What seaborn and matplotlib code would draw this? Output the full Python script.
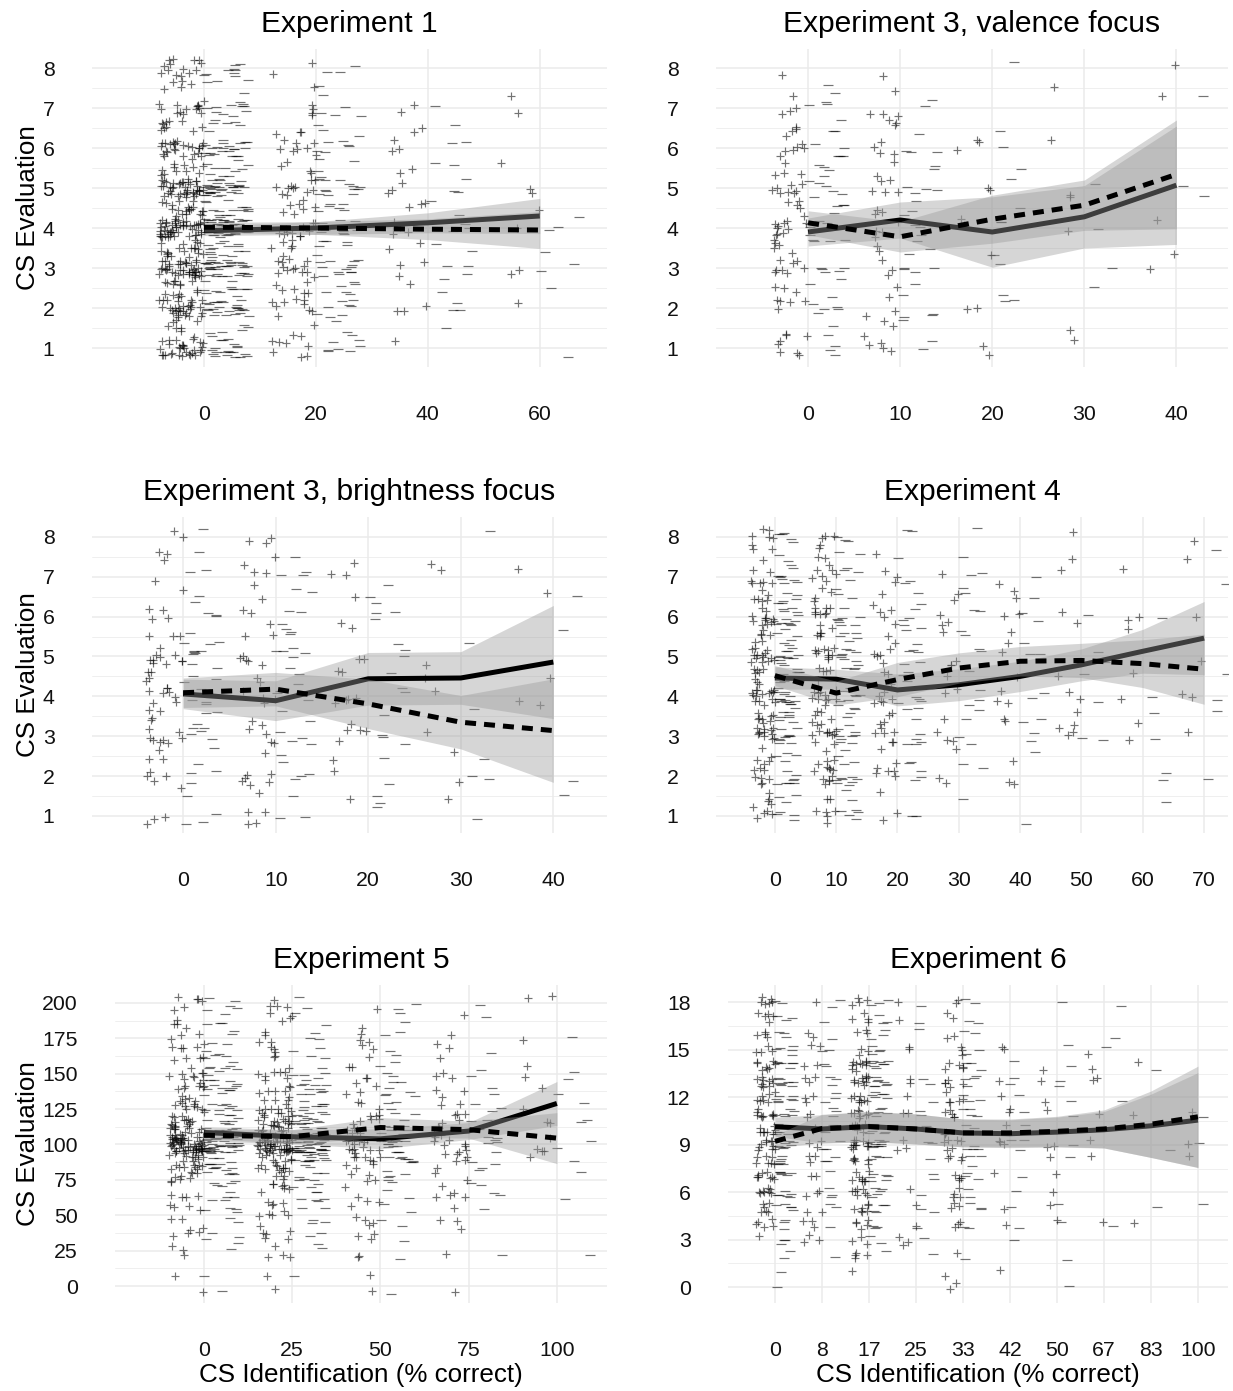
import numpy as np
import pandas as pd
import matplotlib.pyplot as plt
import seaborn as sns

np.random.seed(7)  # jitter only

sns.set_theme(style='white')
plt.rcParams['font.family'] = ['Liberation Sans', 'DejaVu Sans']

# ---------------- data ----------------
titles = ['Experiment 1', 'Experiment 3, valence focus',
          'Experiment 3, brightness focus', 'Experiment 4',
          'Experiment 5', 'Experiment 6']

# rating levels used for the counts of the jittered points
levels_8 = [1, 1.5, 2, 2.5, 3, 3.5, 4, 4.5, 5, 5.5, 6, 6.5, 7, 7.5, 8]
levels_200 = [0, 12.5, 25, 37.5, 50, 62.5, 75, 87.5, 100, 112.5, 125,
              137.5, 150, 162.5, 175, 187.5, 200]
levels_18 = [0, 1, 2, 3, 4, 5, 6, 7, 8, 9, 10, 11, 12, 13, 14, 15, 16, 17, 18]

# Experiment 1
e1_x = [0, 20, 40, 60]
e1_plus = [[30, 8, 30, 15, 40, 20, 50, 20, 40, 12, 25, 10, 14, 5, 14],
           [7, 3, 9, 6, 13, 6, 11, 7, 11, 4, 8, 3, 4, 1, 2],
           [1, 0, 3, 1, 3, 2, 5, 3, 3, 2, 3, 2, 2, 0, 0],
           [0, 0, 1, 0, 2, 0, 1, 1, 2, 1, 0, 0, 1, 1, 0]]
e1_minus = [[20, 6, 25, 12, 35, 15, 40, 15, 35, 10, 22, 6, 11, 4, 9],
            [7, 3, 8, 6, 13, 6, 13, 6, 13, 4, 6, 3, 4, 2, 3],
            [0, 1, 3, 2, 3, 2, 3, 2, 3, 2, 2, 1, 1, 0, 0],
            [1, 0, 0, 1, 2, 1, 2, 1, 0, 0, 0, 0, 0, 0, 0]]
e1_solid = [3.93, 4.0, 4.13, 4.3]
e1_solid_ci = [0.12, 0.16, 0.25, 0.44]
e1_dashed = [4.02, 4.0, 3.97, 3.95]
e1_dashed_ci = [0.12, 0.16, 0.26, 0.46]

# Experiment 3, valence focus
e3v_x = [0, 10, 20, 30, 40]
e3v_plus = [[5, 3, 5, 3, 8, 5, 10, 5, 8, 4, 6, 4, 3, 1, 1],
            [4, 3, 2, 2, 3, 2, 4, 3, 5, 2, 4, 3, 3, 1, 1],
            [2, 0, 2, 0, 0, 1, 2, 0, 2, 0, 3, 0, 0, 0, 0],
            [1, 1, 0, 0, 0, 0, 1, 0, 2, 0, 1, 0, 0, 1, 0],
            [0, 0, 0, 0, 1, 1, 1, 0, 0, 0, 0, 0, 0, 1, 1]]
e3v_minus = [[3, 2, 5, 3, 5, 4, 6, 4, 6, 4, 5, 3, 3, 2, 0],
             [2, 1, 3, 2, 4, 3, 4, 3, 4, 2, 3, 1, 2, 0, 0],
             [0, 0, 2, 1, 1, 1, 2, 1, 1, 1, 1, 1, 0, 0, 1],
             [0, 0, 0, 1, 1, 0, 1, 0, 1, 0, 0, 0, 0, 0, 0],
             [0, 0, 0, 0, 0, 0, 0, 0, 2, 0, 0, 0, 0, 1, 0]]
e3v_solid = [3.9, 4.2, 3.9, 4.28, 5.07]
e3v_solid_ci = [0.35, 0.45, 0.88, 0.78, 1.48]
e3v_dashed = [4.13, 3.78, 4.22, 4.57, 5.34]
e3v_dashed_ci = [0.3, 0.38, 0.6, 0.63, 1.36]

# Experiment 3, brightness focus
e3b_x = [0, 10, 20, 30, 40]
e3b_plus = [[3, 1, 4, 3, 8, 4, 8, 4, 10, 3, 4, 1, 1, 3, 2],
            [4, 1, 6, 1, 4, 2, 4, 2, 5, 2, 3, 1, 3, 2, 3],
            [0, 1, 1, 1, 4, 1, 4, 2, 2, 1, 1, 1, 2, 1, 0],
            [0, 1, 1, 1, 1, 0, 1, 1, 1, 0, 0, 0, 1, 1, 0],
            [0, 0, 0, 0, 0, 0, 2, 1, 0, 0, 0, 1, 1, 0, 0]]
e3b_minus = [[3, 1, 3, 2, 5, 3, 7, 4, 6, 4, 3, 2, 2, 1, 1],
             [2, 1, 3, 2, 4, 2, 4, 3, 5, 3, 3, 2, 3, 1, 0],
             [1, 2, 1, 1, 3, 1, 2, 1, 2, 1, 3, 2, 1, 0, 0],
             [1, 0, 2, 1, 0, 1, 0, 0, 0, 1, 0, 0, 0, 0, 1],
             [0, 1, 1, 0, 0, 0, 0, 0, 0, 1, 0, 1, 0, 0, 0]]
e3b_solid = [4.06, 3.89, 4.44, 4.46, 4.86]
e3b_solid_ci = [0.37, 0.5, 0.66, 0.66, 1.42]
e3b_dashed = [4.09, 4.18, 3.81, 3.35, 3.14]
e3b_dashed_ci = [0.37, 0.42, 0.62, 0.67, 1.3]

# Experiment 4
e4_x = [0, 10, 20, 30, 40, 50, 60, 70]
e4_plus = [[5, 4, 8, 5, 12, 8, 15, 8, 14, 6, 12, 6, 7, 3, 6],
           [5, 2, 10, 4, 10, 7, 12, 5, 10, 5, 9, 4, 6, 4, 4],
           [2, 1, 5, 2, 6, 4, 6, 3, 5, 2, 4, 2, 3, 1, 0],
           [0, 0, 2, 1, 3, 1, 2, 1, 3, 1, 3, 2, 1, 0, 0],
           [0, 0, 2, 1, 0, 2, 3, 1, 1, 2, 2, 2, 1, 0, 0],
           [0, 0, 0, 0, 3, 2, 2, 1, 0, 0, 2, 0, 1, 1, 1],
           [0, 0, 0, 0, 1, 1, 1, 1, 0, 1, 2, 0, 1, 0, 0],
           [0, 0, 0, 0, 1, 0, 2, 0, 1, 0, 1, 0, 0, 1, 1]]
e4_minus = [[4, 3, 8, 4, 10, 8, 14, 7, 12, 6, 12, 6, 8, 3, 5],
            [5, 2, 8, 4, 8, 5, 9, 4, 9, 5, 8, 3, 4, 2, 3],
            [2, 0, 3, 2, 5, 3, 5, 3, 5, 3, 4, 2, 2, 1, 2],
            [0, 1, 1, 1, 2, 2, 3, 2, 2, 2, 2, 2, 2, 1, 1],
            [1, 0, 0, 1, 2, 2, 2, 0, 2, 1, 2, 1, 1, 0, 0],
            [0, 0, 0, 0, 2, 0, 1, 1, 2, 0, 1, 0, 0, 0, 0],
            [0, 1, 2, 0, 1, 1, 1, 0, 0, 0, 1, 0, 0, 0, 0],
            [0, 0, 1, 0, 0, 1, 1, 1, 0, 0, 0, 0, 1, 1, 0]]
e4_solid = [4.46, 4.43, 4.16, 4.29, 4.5, 4.79, 5.13, 5.46]
e4_solid_ci = [0.28, 0.25, 0.4, 0.4, 0.38, 0.4, 0.55, 0.92]
e4_dashed = [4.52, 4.08, 4.42, 4.71, 4.88, 4.9, 4.82, 4.68]
e4_dashed_ci = [0.25, 0.3, 0.43, 0.38, 0.37, 0.43, 0.6, 0.88]

# Experiment 5
e5_x = [0, 25, 50, 75, 100]
e5_plus = [[1, 1, 3, 5, 4, 6, 9, 18, 55, 24, 14, 10, 9, 6, 6, 4, 6],
           [1, 1, 4, 6, 5, 6, 9, 18, 50, 24, 14, 10, 8, 4, 5, 4, 4],
           [1, 1, 2, 4, 3, 4, 5, 9, 14, 9, 6, 4, 4, 2, 4, 1, 1],
           [1, 0, 1, 1, 3, 4, 3, 6, 8, 6, 5, 3, 3, 2, 2, 1, 0],
           [0, 0, 0, 0, 0, 0, 0, 1, 4, 2, 1, 1, 2, 0, 1, 0, 2]]
e5_minus = [[1, 1, 2, 3, 6, 5, 9, 12, 40, 18, 12, 10, 10, 6, 4, 4, 5],
            [0, 1, 2, 2, 5, 6, 9, 14, 45, 18, 13, 10, 6, 4, 3, 2, 2],
            [1, 0, 1, 2, 2, 3, 6, 8, 14, 8, 5, 5, 5, 3, 2, 2, 2],
            [0, 0, 1, 0, 1, 2, 2, 4, 6, 5, 3, 2, 2, 1, 0, 1, 1],
            [0, 0, 1, 0, 0, 1, 1, 1, 2, 2, 1, 1, 2, 0, 1, 0, 0]]
e5_solid = [108.5, 105.5, 104, 109.5, 129]
e5_solid_ci = [4, 5, 7, 6, 15.5]
e5_dashed = [106.5, 105.5, 112, 110.5, 104.5]
e5_dashed_ci = [4, 5, 7, 6, 18]

# Experiment 6 (categorical identification levels)
e6_labels = ['0', '8', '17', '25', '33', '42', '50', '67', '83', '100']
e6_x = [0, 1, 2, 3, 4, 5, 6, 7, 8, 9]
e6_plus = [[0, 0, 0, 1, 5, 6, 8, 8, 7, 10, 8, 9, 7, 10, 8, 4, 4, 5, 6],
           [0, 0, 0, 3, 3, 2, 3, 2, 3, 3, 2, 2, 3, 3, 2, 2, 2, 0, 1],
           [0, 1, 4, 3, 5, 7, 7, 8, 6, 12, 6, 8, 8, 10, 10, 3, 3, 4, 4],
           [0, 0, 0, 3, 1, 1, 1, 0, 0, 3, 0, 2, 1, 2, 0, 2, 0, 1, 1],
           [2, 1, 1, 0, 3, 3, 4, 4, 4, 6, 4, 5, 5, 5, 5, 3, 2, 2, 2],
           [0, 1, 0, 0, 1, 1, 0, 1, 0, 3, 1, 2, 1, 1, 0, 2, 0, 0, 0],
           [0, 0, 0, 0, 1, 1, 1, 1, 1, 2, 0, 1, 1, 1, 1, 0, 0, 0, 0],
           [0, 0, 0, 0, 1, 0, 0, 0, 1, 1, 0, 1, 0, 2, 1, 1, 0, 0, 0],
           [0, 0, 0, 0, 1, 0, 0, 0, 0, 0, 0, 1, 0, 0, 1, 0, 0, 0, 0],
           [0, 0, 0, 0, 0, 0, 0, 0, 1, 1, 0, 1, 0, 0, 0, 0, 0, 0, 0]]
e6_minus = [[1, 1, 2, 3, 3, 5, 6, 6, 6, 8, 6, 6, 7, 8, 6, 5, 3, 3, 2],
            [0, 0, 1, 0, 1, 2, 3, 1, 3, 3, 4, 3, 3, 3, 2, 2, 1, 1, 2],
            [0, 0, 1, 2, 3, 4, 5, 6, 4, 10, 7, 6, 6, 8, 8, 4, 3, 3, 3],
            [0, 0, 1, 1, 1, 2, 1, 2, 1, 2, 1, 2, 1, 2, 0, 0, 1, 1, 1],
            [0, 0, 1, 0, 2, 3, 2, 3, 3, 4, 3, 4, 3, 4, 3, 2, 2, 2, 2],
            [0, 0, 0, 1, 1, 1, 1, 1, 0, 3, 1, 1, 1, 2, 1, 0, 0, 0, 0],
            [1, 0, 1, 0, 1, 1, 0, 0, 1, 1, 0, 1, 1, 2, 1, 1, 0, 0, 1],
            [0, 0, 0, 0, 1, 0, 0, 0, 0, 0, 0, 0, 1, 0, 0, 1, 1, 0, 1],
            [0, 0, 0, 0, 0, 1, 0, 0, 0, 1, 0, 0, 0, 0, 1, 0, 0, 0, 0],
            [0, 0, 0, 0, 0, 1, 0, 0, 0, 1, 0, 1, 0, 0, 0, 0, 0, 0, 0]]
e6_solid = [10.14, 10.0, 10.15, 10.0, 9.75, 9.7, 9.8, 9.95, 10.2, 10.56]
e6_solid_ci = [0.6, 0.9, 0.95, 0.95, 0.88, 0.88, 0.95, 1.15, 2.0, 3.0]
e6_dashed = [9.22, 10.03, 10.15, 10.0, 9.75, 9.75, 9.85, 10.0, 10.3, 10.77]
e6_dashed_ci = [0.4, 0.9, 0.95, 0.95, 0.88, 0.88, 0.95, 1.2, 2.1, 3.2]

y8_ticks = [1, 2, 3, 4, 5, 6, 7, 8]
y200_ticks = [0, 25, 50, 75, 100, 125, 150, 175, 200]
y18_ticks = [0, 3, 6, 9, 12, 15, 18]

# ---------------- layout (pixel boxes: left, right, top, bottom) ----------------
W, H = 1233, 1391
panels = [
    dict(box=(92, 607, 49, 367), x=e1_x, xt=None, ylev=levels_8, plus=e1_plus, minus=e1_minus,
         step=20, yjit=0.22, solid=e1_solid, sci=e1_solid_ci, dashed=e1_dashed, dci=e1_dashed_ci,
         xlim=(-20, 72), ylim=(0.525, 8.475), yt=y8_ticks, ylab=True, xlab=False),
    dict(box=(716, 1228, 49, 367), x=e3v_x, xt=None, ylev=levels_8, plus=e3v_plus, minus=e3v_minus,
         step=10, yjit=0.22, solid=e3v_solid, sci=e3v_solid_ci, dashed=e3v_dashed, dci=e3v_dashed_ci,
         xlim=(-10, 45.6), ylim=(0.525, 8.475), yt=y8_ticks, ylab=False, xlab=False),
    dict(box=(92, 607, 517, 833), x=e3b_x, xt=None, ylev=levels_8, plus=e3b_plus, minus=e3b_minus,
         step=10, yjit=0.22, solid=e3b_solid, sci=e3b_solid_ci, dashed=e3b_dashed, dci=e3b_dashed_ci,
         xlim=(-9.85, 45.8), ylim=(0.57, 8.5), yt=y8_ticks, ylab=True, xlab=False),
    dict(box=(716, 1228, 517, 833), x=e4_x, xt=None, ylev=levels_8, plus=e4_plus, minus=e4_minus,
         step=10, yjit=0.22, solid=e4_solid, sci=e4_solid_ci, dashed=e4_dashed, dci=e4_dashed_ci,
         xlim=(-9.6, 73.9), ylim=(0.57, 8.5), yt=y8_ticks, ylab=False, xlab=False),
    dict(box=(115, 607, 985, 1303), x=e5_x, xt=None, ylev=levels_200, plus=e5_plus, minus=e5_minus,
         step=25, yjit=6.0, solid=e5_solid, sci=e5_solid_ci, dashed=e5_dashed, dci=e5_dashed_ci,
         xlim=(-25.2, 114.2), ylim=(-12, 212.7), yt=y200_ticks, ylab=True, xlab=True),
    dict(box=(728, 1228, 985, 1303), x=e6_x, xt=e6_labels, ylev=levels_18, plus=e6_plus, minus=e6_minus,
         step=1, yjit=0.33, solid=e6_solid, sci=e6_solid_ci, dashed=e6_dashed, dci=e6_dashed_ci,
         xlim=(-1.0, 9.64), ylim=(-1.0, 19.1), yt=y18_ticks, ylab=False, xlab=True),
]

fig = plt.figure(figsize=(W / 100, H / 100), dpi=100)

for title, p in zip(titles, panels):
    l, r, t, b = p['box']
    ax = fig.add_axes([l / W, 1 - b / H, (r - l) / W, (b - t) / H])

    # jittered individual points, '+' shifted left, '-' shifted right
    rows = []
    for sign, counts, shift in (('+', p['plus'], -0.2), ('-', p['minus'], 0.2)):
        for xv, row in zip(p['x'], counts):
            for yv, n in zip(p['ylev'], row):
                rows += [(xv + shift * p['step'], yv, sign)] * n
    df = pd.DataFrame(rows, columns=['x', 'y', 'sign'])
    for sign, marker, size in (('+', '+', 36), ('-', '_', 46)):
        sns.regplot(data=df[df['sign'] == sign], x='x', y='y', fit_reg=False,
                    x_jitter=0.2 * p['step'], y_jitter=p['yjit'], marker=marker,
                    color='black', ax=ax,
                    scatter_kws={'s': size, 'linewidths': 0.85, 'alpha': 0.55, 'zorder': 2})

    # means with confidence ribbons
    xs = np.asarray(p['x'], dtype=float)
    z = 3
    for mean, ci, style in ((p['solid'], p['sci'], '-'), (p['dashed'], p['dci'], (0, (2.2, 1.6)))):
        m = np.asarray(mean)
        h = np.asarray(ci)
        ax.fill_between(xs, m - h, m + h, color='#999999', alpha=0.4, lw=0, zorder=z)
        sns.lineplot(x=xs, y=m, color='black', lw=3.6, linestyle=style, ax=ax,
                     zorder=z + 1, dash_capstyle='butt', solid_capstyle='butt')
        z += 2

    ax.set_xlim(*p['xlim'])
    ax.set_ylim(*p['ylim'])
    ax.set_xticks(p['x'])
    if p['xt'] is not None:
        ax.set_xticklabels(p['xt'])
    yt = p['yt']
    ax.set_yticks(yt)
    ax.set_yticks([(a + c) / 2 for a, c in zip(yt[:-1], yt[1:])], minor=True)
    ax.grid(True, which='major', color='#ebebeb', lw=1.1)
    ax.grid(True, which='minor', axis='y', color='#ebebeb', lw=0.55)
    ax.set_axisbelow(True)
    for s in ax.spines.values():
        s.set_visible(False)
    ax.tick_params(axis='both', which='both', length=0, pad=27, labelsize=15.3, labelcolor='#111111')

    ax.set_title(title, fontsize=21.6, pad=12, color='black')
    ax.set_xlabel('')
    ax.set_ylabel('')
    if p['ylab']:
        ax.set_ylabel('CS Evaluation', fontsize=18.7, color='black')
        ax.yaxis.set_label_coords((28 - l) / (r - l), 0.5)
        ax.yaxis.label.set_verticalalignment('center')
    if p['xlab']:
        ax.set_xlabel('CS Identification (% correct)', fontsize=18.7, color='black')
        ax.xaxis.set_label_coords(0.5, (b - 1375) / (b - t))
        ax.xaxis.label.set_verticalalignment('center')

fig.savefig('out.png', dpi=100, facecolor='white')
